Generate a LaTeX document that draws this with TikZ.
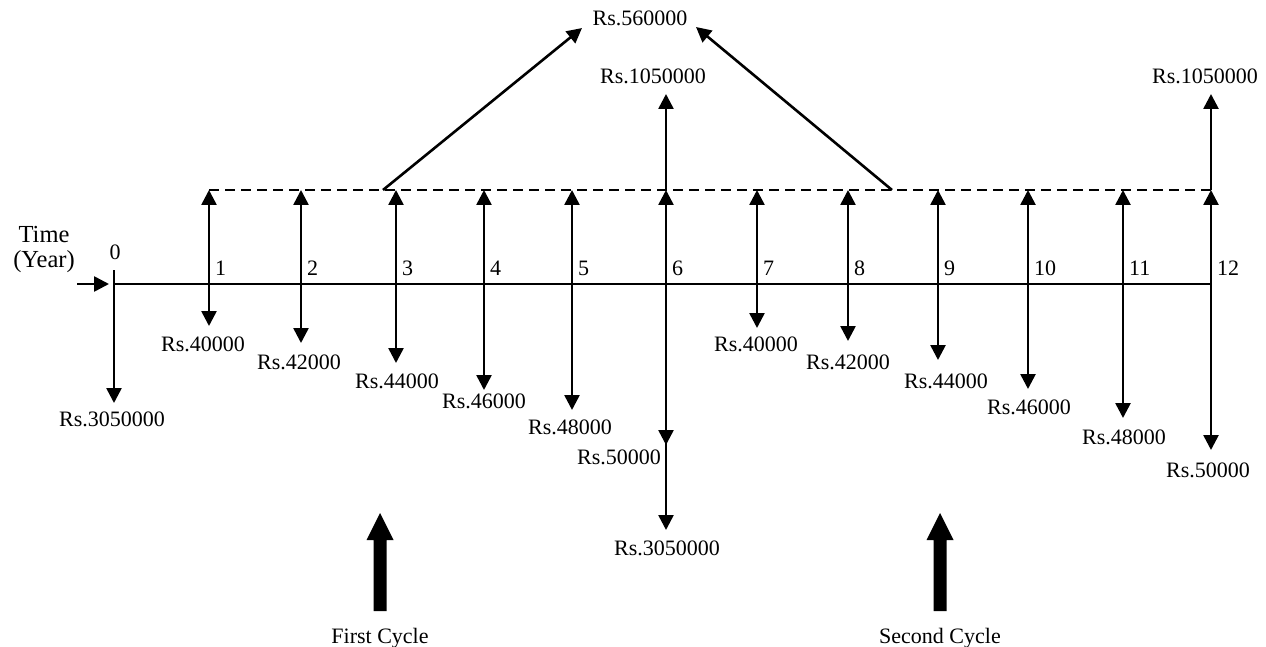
\documentclass[tikz,border=0pt]{standalone}
\usepackage{fontspec}
\setmainfont{Liberation Serif}
\usetikzlibrary{arrows.meta}
\begin{document}
\begin{tikzpicture}[x=1pt,y=-1pt,
  lbl/.style={font=\fontsize{22}{26}\selectfont, inner sep=0pt, anchor=base},
  num/.style={lbl, anchor=base west},
  biglbl/.style={font=\fontsize{24.5}{25}\selectfont, inner sep=0pt, anchor=base, align=center},
  flow/.style={line width=2.6pt, -{Triangle[length=15pt,width=15pt]}},
  bigarrow/.style={fill=black},
  ]
\useasboundingbox (0,0) rectangle (1266,647);
% axis coordinates
\foreach \i/\x in {0/114,1/209,2/301,3/396,4/484,5/572,6/666,7/757,8/848,9/938,10/1028,11/1123,12/1211}{
  \coordinate (t\i) at (\x,284);
  \coordinate (d\i) at (\x,190);
}
\foreach \i/\x in {1/209,2/301,3/396,4/484,5/572,6/666,7/757,8/848,9/938,10/1028,11/1123,12/1211}{
  \node[num] (n\i) at (\x+6,275) {\i};
}
\node[lbl] (n0) at (115,259) {0};
% down tips
\foreach \i/\x/\y in {0/114/403,1/209/326,2/301/343,3/396/363,4/484/390,5/572/410,6/666/530,7/757/328,8/848/341,9/938/360,10/1028/389,11/1123/418,12/1211/450}{
  \coordinate (b\i) at (\x,\y);
}
\draw[line width=2pt] (t0) -- (t12);
\draw[line width=2.6pt, dash pattern=on 10pt off 6pt] (d1) -- (d12);
% up arrows to dashed line
\foreach \i in {1,...,12}{ \draw[flow] (t\i) -- (d\i); }
% down arrows
\coordinate (t0top) at (114,270);
\draw[flow] (t0top) -- (b0);
\foreach \i in {1,...,12}{ \draw[flow] (t\i) -- (b\i); }
\coordinate (m6) at (666,445);
\draw[flow] (t6) -- (m6);
% up arrows at 6 and 12
\coordinate (u6) at (666,94);
\coordinate (u12) at (1211,94);
\draw[flow] (d6) -- (u6);
\draw[flow] (d12) -- (u12);
% diagonal arrows
\coordinate (s1) at (383,190);
\coordinate (e1) at (582,28);
\coordinate (s2) at (892,190);
\coordinate (e2) at (696,27);
\draw[flow] (s1) -- (e1);
\draw[flow] (s2) -- (e2);
% time arrow
\coordinate (ta) at (77,284);
\coordinate (tb) at (109,284);
\draw[flow] (ta) -- (tb);
% labels
\node[biglbl] (time) at (44,267) {Time\\(Year)};
\node[lbl] (r560) at (640,26) {Rs.560000};
\node[lbl] (u6l) at (653,84) {Rs.1050000};
\node[lbl] (u12l) at (1205,84) {Rs.1050000};
\node[lbl] (l0) at (112,426) {Rs.3050000};
\node[lbl] (l1) at (203,351) {Rs.40000};
\node[lbl] (l2) at (299,369) {Rs.42000};
\node[lbl] (l3) at (397,388) {Rs.44000};
\node[lbl] (l4) at (484,408) {Rs.46000};
\node[lbl] (l5) at (570,434) {Rs.48000};
\node[lbl] (l6a) at (619,464) {Rs.50000};
\node[lbl] (l6b) at (667,555) {Rs.3050000};
\node[lbl] (l7) at (756,351) {Rs.40000};
\node[lbl] (l8) at (848,369) {Rs.42000};
\node[lbl] (l9) at (946,388) {Rs.44000};
\node[lbl] (l10) at (1029,414) {Rs.46000};
\node[lbl] (l11) at (1124,444) {Rs.48000};
\node[lbl] (l12) at (1208,477) {Rs.50000};
% cycle arrows
\node[lbl] (c1) at (380,643) {First Cycle};
\node[lbl] (c2) at (940,643) {Second Cycle};
\foreach \cx in {380,940}{
  \fill[bigarrow] (\cx-6.5,611) -- (\cx-6.5,540) -- (\cx-13.5,540) -- (\cx,513) -- (\cx+13.5,540) -- (\cx+6.5,540) -- (\cx+6.5,611) -- cycle;
}
\end{tikzpicture}
\end{document}
